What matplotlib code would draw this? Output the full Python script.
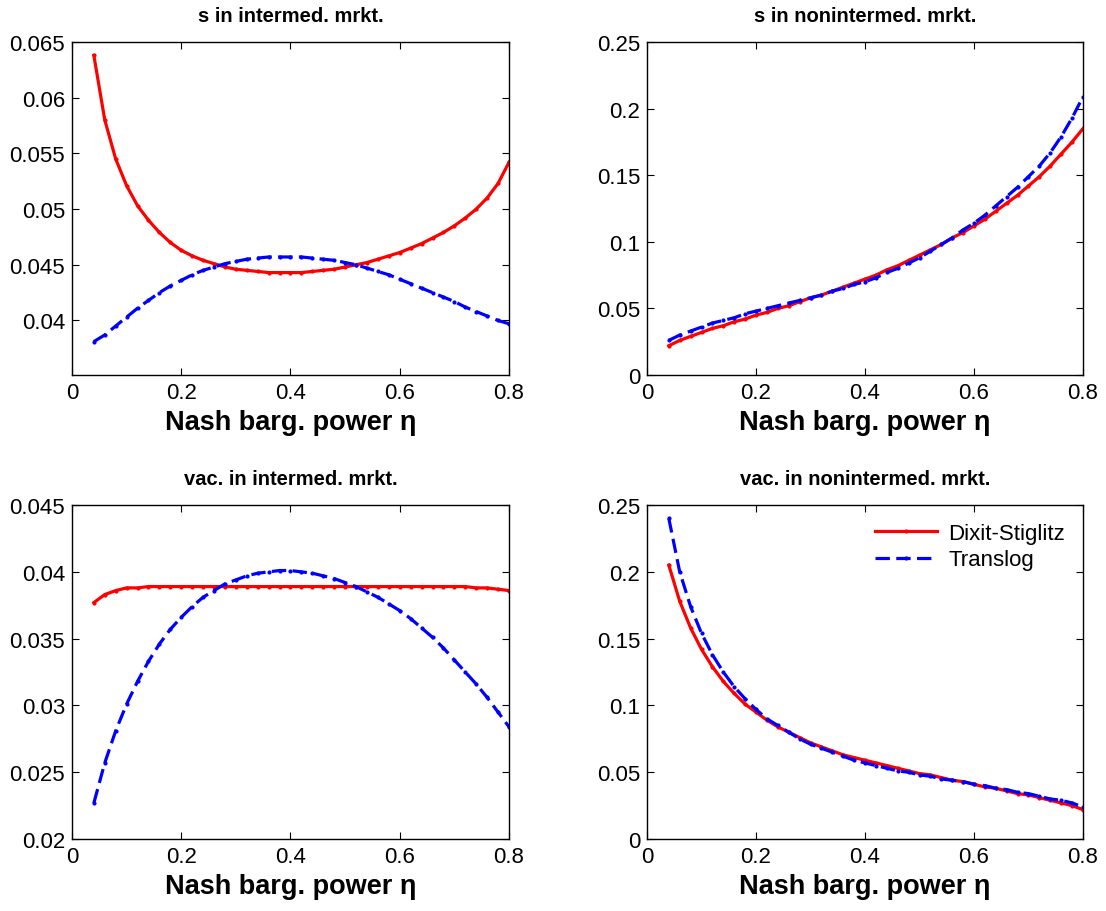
import numpy as np
import matplotlib.pyplot as plt

plt.rcParams['font.family'] = ['Liberation Sans', 'DejaVu Sans']

# Nash bargaining power grid
eta = [0.04, 0.06, 0.08, 0.10, 0.12, 0.14, 0.16, 0.18, 0.20, 0.22,
       0.24, 0.26, 0.28, 0.30, 0.32, 0.34, 0.36, 0.38, 0.40, 0.42,
       0.44, 0.46, 0.48, 0.50, 0.52, 0.54, 0.56, 0.58, 0.60, 0.62,
       0.64, 0.66, 0.68, 0.70, 0.72, 0.74, 0.76, 0.78, 0.80]

# s in intermediated market
s_int_ds = [0.0638, 0.0580, 0.0545, 0.0521, 0.0503, 0.0490, 0.0479, 0.0470, 0.0463, 0.0458,
            0.0454, 0.0451, 0.0448, 0.0446, 0.0445, 0.0444, 0.0443, 0.0443, 0.0443, 0.0443,
            0.0444, 0.0445, 0.0446, 0.0448, 0.0450, 0.0452, 0.0455, 0.0458, 0.0461, 0.0465,
            0.0469, 0.0474, 0.0479, 0.0485, 0.0492, 0.0500, 0.0510, 0.0523, 0.0542]
s_int_tl = [0.0381, 0.0387, 0.0395, 0.0403, 0.0411, 0.0418, 0.0425, 0.0431, 0.0436, 0.0441,
            0.0445, 0.0448, 0.0451, 0.0453, 0.0455, 0.0456, 0.0457, 0.0457, 0.0457, 0.0457,
            0.0456, 0.0455, 0.0454, 0.0452, 0.0450, 0.0447, 0.0444, 0.0441, 0.0437, 0.0433,
            0.0429, 0.0425, 0.0421, 0.0417, 0.0412, 0.0408, 0.0404, 0.0400, 0.0397]

# s in nonintermediated market
s_non_ds = [0.022, 0.026, 0.029, 0.032, 0.035, 0.037, 0.040, 0.042, 0.045, 0.047,
            0.050, 0.052, 0.055, 0.058, 0.060, 0.063, 0.066, 0.069, 0.072, 0.075,
            0.079, 0.082, 0.086, 0.090, 0.094, 0.098, 0.103, 0.107, 0.112, 0.117,
            0.123, 0.129, 0.135, 0.142, 0.149, 0.157, 0.166, 0.175, 0.185]
s_non_tl = [0.026, 0.030, 0.033, 0.036, 0.039, 0.041, 0.043, 0.046, 0.048, 0.050,
            0.052, 0.054, 0.056, 0.058, 0.060, 0.063, 0.065, 0.068, 0.070, 0.073,
            0.077, 0.080, 0.084, 0.088, 0.093, 0.098, 0.103, 0.109, 0.114, 0.120,
            0.127, 0.134, 0.141, 0.149, 0.157, 0.167, 0.179, 0.193, 0.209]

# vacancies in intermediated market
v_int_ds = [0.0377, 0.0383, 0.0386, 0.0388, 0.0388, 0.0389, 0.0389, 0.0389, 0.0389, 0.0389,
            0.0389, 0.0389, 0.0389, 0.0389, 0.0389, 0.0389, 0.0389, 0.0389, 0.0389, 0.0389,
            0.0389, 0.0389, 0.0389, 0.0389, 0.0389, 0.0389, 0.0389, 0.0389, 0.0389, 0.0389,
            0.0389, 0.0389, 0.0389, 0.0389, 0.0389, 0.0388, 0.0388, 0.0387, 0.0386]
v_int_tl = [0.0227, 0.0257, 0.0281, 0.0301, 0.0318, 0.0333, 0.0346, 0.0357, 0.0366, 0.0374,
            0.0381, 0.0386, 0.0391, 0.0394, 0.0397, 0.0399, 0.0400, 0.0401, 0.0401, 0.0400,
            0.0399, 0.0397, 0.0395, 0.0392, 0.0389, 0.0385, 0.0381, 0.0376, 0.0371, 0.0365,
            0.0358, 0.0351, 0.0343, 0.0334, 0.0325, 0.0316, 0.0306, 0.0295, 0.0284]

# vacancies in nonintermediated market
v_non_ds = [0.205, 0.178, 0.158, 0.142, 0.129, 0.118, 0.109, 0.101, 0.095, 0.089,
            0.084, 0.080, 0.076, 0.072, 0.069, 0.066, 0.063, 0.061, 0.059, 0.057,
            0.055, 0.053, 0.051, 0.049, 0.048, 0.046, 0.044, 0.043, 0.041, 0.039,
            0.038, 0.036, 0.034, 0.033, 0.031, 0.029, 0.027, 0.025, 0.022]
v_non_tl = [0.240, 0.200, 0.174, 0.154, 0.138, 0.125, 0.114, 0.105, 0.097, 0.090,
            0.085, 0.080, 0.075, 0.071, 0.068, 0.065, 0.062, 0.059, 0.057, 0.055,
            0.053, 0.051, 0.050, 0.048, 0.047, 0.045, 0.044, 0.043, 0.041, 0.040,
            0.038, 0.037, 0.035, 0.034, 0.032, 0.030, 0.029, 0.027, 0.024]

panels = [
    ('s in intermed. mrkt.', s_int_ds, s_int_tl, (0.0351, 0.065), [0.04, 0.045, 0.05, 0.055, 0.06, 0.065]),
    ('s in nonintermed. mrkt.', s_non_ds, s_non_tl, (0, 0.25), [0, 0.05, 0.1, 0.15, 0.2, 0.25]),
    ('vac. in intermed. mrkt.', v_int_ds, v_int_tl, (0.02, 0.045), [0.02, 0.025, 0.03, 0.035, 0.04, 0.045]),
    ('vac. in nonintermed. mrkt.', v_non_ds, v_non_tl, (0, 0.25), [0, 0.05, 0.1, 0.15, 0.2, 0.25]),
]

# axes positions in figure fractions
pos = [[0.0651, 0.5877, 0.3951, 0.3651],
       [0.5850, 0.5877, 0.3942, 0.3651],
       [0.0651, 0.0789, 0.3951, 0.3662],
       [0.5850, 0.0789, 0.3942, 0.3662]]

fig = plt.figure(figsize=(11.06, 9.12), dpi=100)

for i, (title, ds, tl, ylim, yticks) in enumerate(panels):
    ax = fig.add_axes(pos[i])
    ax.plot(eta, ds, '-', color='red', lw=2.3, marker='.', ms=4, label='Dixit-Stiglitz')
    ax.plot(eta, tl, '--', color='blue', lw=2.3, marker='.', ms=4, dashes=(4.5, 2), label='Translog')
    ax.set_xlim(0, 0.8)
    ax.set_ylim(*ylim)
    ax.set_xticks([0, 0.2, 0.4, 0.6, 0.8])
    ax.set_xticklabels(['0', '0.2', '0.4', '0.6', '0.8'])
    ax.set_yticks(yticks)
    ax.set_yticklabels([('%g' % t) for t in yticks])
    ax.tick_params(direction='in', top=True, right=True, labelsize=16, length=5, width=0.8, pad=5)
    for sp in ax.spines.values():
        sp.set_linewidth(1.0)
    ax.set_title(title, fontsize=14.5, fontweight='bold', pad=15)
    ax.set_xlabel('Nash barg. power \u03b7', fontsize=19.5, fontweight='bold', labelpad=4)
    if i == 3:
        ax.legend(loc='upper right', frameon=False, fontsize=16, handlelength=2.8,
                  handletextpad=0.5, labelspacing=0.25, borderaxespad=0.4)

fig.savefig('out.png', dpi=100)
